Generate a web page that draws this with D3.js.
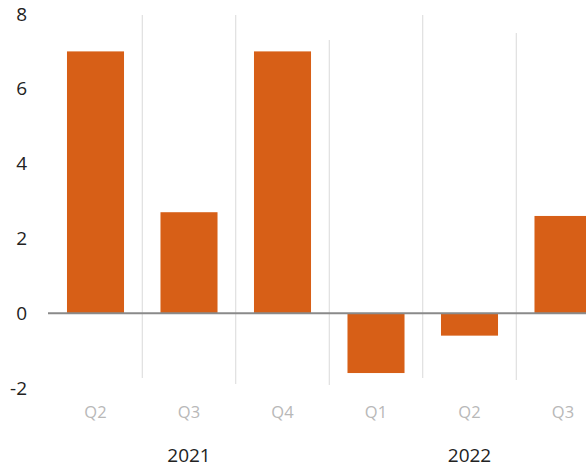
<!DOCTYPE html>
<html><head><meta charset="utf-8">
<script src="https://cdn.jsdelivr.net/npm/d3@7"></script>
<style>body{margin:0;background:#fff}svg{display:block}</style>
</head><body>
<svg id="c" width="586" height="468"></svg>
<script>
const quarters = ["Q2","Q3","Q4","Q1","Q2","Q3"];
const years = ["2021","2021","2021","2022","2022","2022"];
const values = [7.0, 2.7, 7.0, -1.6, -0.6, 2.6];
const yTicks = [-2, 0, 2, 4, 6, 8];

const svg = d3.select("#c");
const ids = d3.range(values.length);
const x = d3.scaleBand().domain(ids).range([48.75, 609.75]).paddingInner(0.39).paddingOuter(0.195);
const y = d3.scaleLinear().domain([-2, 8]).range([388, 14]);

// separator lines at band boundaries
const sepTop = [15, 15, 40, 15, 33], sepBot = [378, 384, 385, 378, 380];
d3.range(1, values.length).forEach((k, i) => {
  const xx = x.range()[0] + x.step() * k;
  svg.append("line").attr("x1", xx).attr("x2", xx).attr("y1", sepTop[i]).attr("y2", sepBot[i])
    .attr("stroke", "#d9d9d9").attr("stroke-width", 1);
});

// bars
svg.selectAll("rect.bar").data(values).join("rect").attr("class", "bar")
  .attr("x", (d, i) => x(i)).attr("width", x.bandwidth())
  .attr("y", d => y(Math.max(0, d))).attr("height", d => Math.abs(y(d) - y(0)))
  .attr("fill", "#d75f17");

// zero line
svg.append("line").attr("x1", 48).attr("x2", 586).attr("y1", y(0)).attr("y2", y(0))
  .attr("stroke", "#8a8a8a").attr("stroke-width", 2);

// y axis labels
const yAxis = d3.axisLeft(y).tickValues(yTicks).tickSize(0).tickPadding(0).tickFormat(d3.format("d"));
const ga = svg.append("g").attr("transform", "translate(27,0)").call(yAxis);
ga.select(".domain").remove();
ga.selectAll("text").attr("font-family", "Open Sans, sans-serif").attr("font-size", 19).attr("fill", "#222")
  .text(d => d < 0 ? "-" + Math.abs(d) : d);

// quarter labels
svg.selectAll("text.q").data(quarters).join("text").attr("class", "q")
  .attr("x", (d, i) => x(i) + x.bandwidth() / 2).attr("y", 418)
  .attr("text-anchor", "middle").attr("font-family", "Open Sans, sans-serif").attr("font-size", 16.5)
  .attr("fill", "#b8b8b8").text(d => d);

// year labels
const yearGroups = d3.groups(ids, i => years[i]);
svg.selectAll("text.yr").data(yearGroups).join("text").attr("class", "yr")
  .attr("x", g => d3.mean(g[1], i => x(i) + x.bandwidth() / 2)).attr("y", 462)
  .attr("text-anchor", "middle").attr("font-family", "Open Sans, sans-serif").attr("font-size", 19)
  .attr("fill", "#222").text(g => g[0]);
</script>
</body></html>
